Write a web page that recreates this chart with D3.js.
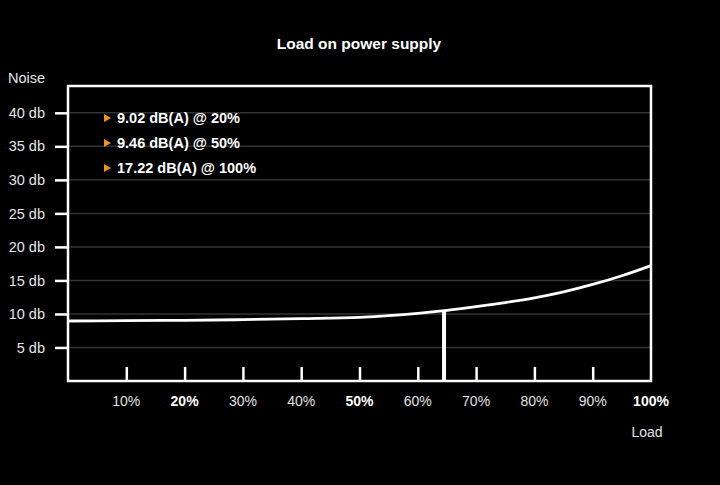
<!DOCTYPE html>
<html><head><meta charset="utf-8">
<script src="https://cdn.jsdelivr.net/npm/d3@7"></script>
<style>
html,body{margin:0;padding:0;background:#000;}
svg{display:block;font-family:"Liberation Sans",Arial,Helvetica,sans-serif;}
</style></head>
<body><svg id="c" width="720" height="485"></svg>
<script>
const loadPct = [0, 10, 20, 30, 40, 50, 55, 60, 65, 70, 75, 80, 85, 90, 95, 100];
const noiseDb = [8.95, 9.0, 9.05, 9.15, 9.3, 9.5, 9.75, 10.1, 10.55, 11.1, 11.7, 12.4, 13.3, 14.4, 15.7, 17.22];
const xTicks = [10, 20, 30, 40, 50, 60, 70, 80, 90, 100];
const boldX = [20, 50, 100];
const yTicks = [5, 10, 15, 20, 25, 30, 35, 40];
const legendItems = ["9.02 dB(A) @ 20%", "9.46 dB(A) @ 50%", "17.22 dB(A) @ 100%"];
const markerLoad = 64.5;

const svg = d3.select("#c");
svg.append("rect").attr("width",720).attr("height",485).attr("fill","#000");
const L=68, R=651, T=86, B=381;
const x = d3.scaleLinear().domain([0,100]).range([L,R]);
const y = d3.scaleLinear().domain([0,44]).range([B,T]);
const interp = d3.scaleLinear().domain(loadPct).range(noiseDb);

// title
svg.append("text").attr("x",359).attr("y",49).attr("text-anchor","middle")
  .attr("fill","#fff").attr("font-weight","bold").attr("font-size",15.5).text("Load on power supply");

// gridlines
svg.append("g").selectAll("line").data(yTicks).join("line")
  .attr("x1",L).attr("x2",R).attr("y1",d=>y(d)).attr("y2",d=>y(d))
  .attr("stroke","#333").attr("stroke-width",1.5);

// y axis (ticks outside)
const yAxis = d3.axisLeft(y).tickValues(yTicks).tickSize(12).tickPadding(10).tickFormat(d=>d+" db");
const gy = svg.append("g").attr("transform",`translate(${L-1},0)`).call(yAxis);
gy.select(".domain").remove();
gy.selectAll(".tick line").attr("stroke","#fff").attr("stroke-width",2.5);
gy.selectAll(".tick text").attr("fill","#e6e6e6").attr("font-size",14.5).attr("font-family","Liberation Sans, Arial, sans-serif");

svg.append("text").attr("x",8).attr("y",83).attr("fill","#e6e6e6").attr("font-size",14.5).text("Noise");

// x axis ticks inside
const xAxis = d3.axisBottom(x).tickValues(xTicks.filter(d=>d<100)).tickSize(-14).tickFormat("");
const gx = svg.append("g").attr("transform",`translate(0,${B})`).call(xAxis);
gx.select(".domain").remove();
gx.selectAll(".tick line").attr("stroke","#fff").attr("stroke-width",2.5);

// x labels
svg.append("g").selectAll("text").data(xTicks).join("text")
  .attr("x",d=>x(d)).attr("y",406).attr("text-anchor","middle")
  .attr("fill",d=>boldX.includes(d)?"#fff":"#e0e0e0")
  .attr("font-weight",d=>boldX.includes(d)?"bold":"normal")
  .attr("font-size",14).text(d=>d+"%");
svg.append("text").attr("x",647).attr("y",437).attr("text-anchor","middle")
  .attr("fill","#e6e6e6").attr("font-size",14).text("Load");

// curve
const line = d3.line().x((d,i)=>x(loadPct[i])).y(d=>y(d)).curve(d3.curveMonotoneX);
svg.append("path").datum(noiseDb).attr("d",line).attr("fill","none")
  .attr("stroke","#fff").attr("stroke-width",2.8);

// marker
svg.append("line").attr("x1",x(markerLoad)).attr("x2",x(markerLoad))
  .attr("y1",B).attr("y2",y(interp(markerLoad))).attr("stroke","#fff").attr("stroke-width",4);

// frame
svg.append("rect").attr("x",L).attr("y",T).attr("width",R-L).attr("height",B-T)
  .attr("fill","none").attr("stroke","#fff").attr("stroke-width",2.5);

// legend
const lg = svg.append("g").selectAll("g").data(legendItems).join("g")
  .attr("transform",(d,i)=>`translate(104,${118+i*25})`);
lg.append("path").attr("d","M0,-4 L7,0 L0,4 Z").attr("fill","#f0902a");
lg.append("text").attr("x",13).attr("y",5).attr("fill","#fff").attr("font-weight","bold")
  .attr("font-size",14.5).text(d=>d);
</script></body></html>
